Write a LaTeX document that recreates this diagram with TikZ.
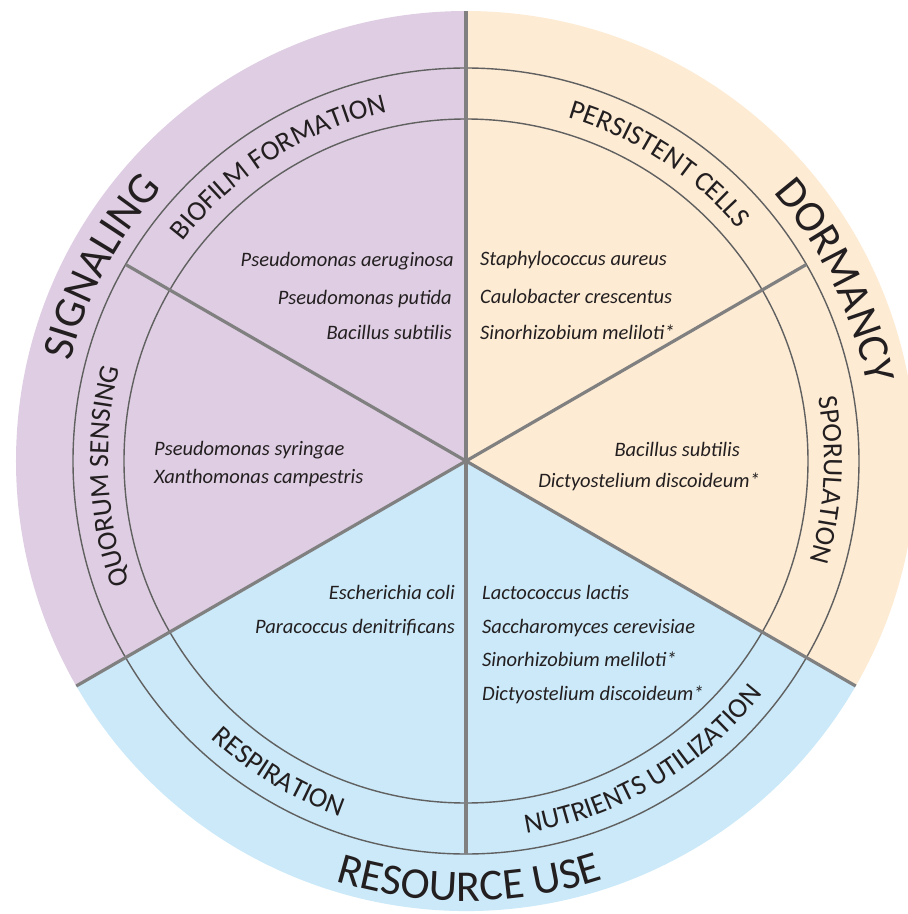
\documentclass[tikz,border=0pt]{standalone}
\usepackage{fontspec}
\setmainfont{Carlito}
\usetikzlibrary{decorations.text}
\definecolor{purp}{HTML}{DFCEE3}
\definecolor{peach}{HTML}{FDEBD4}
\definecolor{sky}{HTML}{CBE9F8}
\definecolor{divc}{HTML}{808080}
\definecolor{ringc}{HTML}{606060}
\definecolor{txt}{HTML}{231F20}
\newcommand\bigtxt{\fontsize{44}{44}\selectfont\color{txt}}
\newcommand\ringtxt{\fontsize{28}{28}\selectfont\color{txt}}
\tikzset{
 species/.style={font=\fontsize{20.5}{20.5}\selectfont\itshape, text=txt, inner sep=0pt},
 divider/.style={draw=divc, line width=3.2pt},
 ringline/.style={draw=ringc, line width=1.4pt},
 curved/.style={decorate, decoration={text along path, text align=center, text={#1}}},
}
\begin{document}
\begin{tikzpicture}[x=1pt,y=1pt]
\useasboundingbox (-466,-453) rectangle (442,461);
\clip (-466,-453) rectangle (442,461);
\coordinate (O) at (0,0);
% sectors
\fill[purp] (O) -- (90:450pt) arc[start angle=90, end angle=210, radius=450pt] -- cycle;
\fill[peach] (O) -- (-30:450pt) arc[start angle=-30, end angle=90, radius=450pt] -- cycle;
\fill[sky] (O) -- (210:450pt) arc[start angle=210, end angle=330, radius=450pt] -- cycle;
% ring
\draw[ringline] (O) circle[radius=342pt];
\draw[ringline] (O) circle[radius=393pt];
% dividers
\draw[divider] (O) -- (90:450pt);
\draw[divider] (O) -- (210:450pt);
\draw[divider] (O) -- (330:450pt);
\draw[divider] (O) -- (150:393pt);
\draw[divider] (O) -- (30:393pt);
\draw[divider] (O) -- (270:393pt);
% outer labels
\path[curved={|\bigtxt|SIGNALING}] (202:408pt) arc[start angle=202, end angle=102, radius=408pt];
\path[curved={|\bigtxt|DORMANCY}] (76:408pt) arc[start angle=76, end angle=-24, radius=408pt];
\path[curved={|\bigtxt|RESOURCE USE}] (220.5:440pt) arc[start angle=220.5, end angle=320.5, radius=440pt];
% ring labels
\path[curved={|\ringtxt|BIOFILM FORMATION}] (162.5:358pt) arc[start angle=162.5, end angle=82.5, radius=358pt];
\path[curved={|\ringtxt|PERSISTENT CELLS}] (97:358pt) arc[start angle=97, end angle=17, radius=358pt];
\path[curved={|\ringtxt|QUORUM SENSING}] (222.5:358pt) arc[start angle=222.5, end angle=142.5, radius=358pt];
\path[curved={|\ringtxt|SPORULATION}] (37:358pt) arc[start angle=37, end angle=-43, radius=358pt];
\path[curved={|\ringtxt|RESPIRATION}] (199:377pt) arc[start angle=199, end angle=279, radius=377pt];
\path[curved={|\ringtxt|NUTRIENTS UTILIZATION}] (260.5:377pt) arc[start angle=260.5, end angle=340.5, radius=377pt];
% species
\node[species, anchor=base east] (b1) at (-12,195) {Pseudomonas aeruginosa};
\node[species, anchor=base east] (b2) at (-14,157) {Pseudomonas putida};
\node[species, anchor=base east] (b3) at (-14,122) {Bacillus subtilis};
\node[species, anchor=base west] (p1) at (14,196) {Staphylococcus aureus};
\node[species, anchor=base west] (p2) at (14,158) {Caulobacter crescentus};
\node[species, anchor=base west] (p3) at (14,122) {Sinorhizobium meliloti*};
\node[species, anchor=base west] (q1) at (-312,6) {Pseudomonas syringae};
\node[species, anchor=base west] (q2) at (-312,-22) {Xanthomonas campestris};
\node[species, anchor=base east] (s1) at (274,5) {Bacillus subtilis};
\node[species, anchor=base east] (s2) at (294,-26) {Dictyostelium discoideum*};
\node[species, anchor=base east] (r1) at (-11,-138) {Escherichia coli};
\node[species, anchor=base east] (r2) at (-11,-172) {Paracoccus denitrificans};
\node[species, anchor=base west] (n1) at (16,-138) {Lactococcus lactis};
\node[species, anchor=base west] (n2) at (16,-172) {Saccharomyces cerevisiae};
\node[species, anchor=base west] (n3) at (16,-205) {Sinorhizobium meliloti*};
\node[species, anchor=base west] (n4) at (16,-239) {Dictyostelium discoideum*};
\end{tikzpicture}
\end{document}
